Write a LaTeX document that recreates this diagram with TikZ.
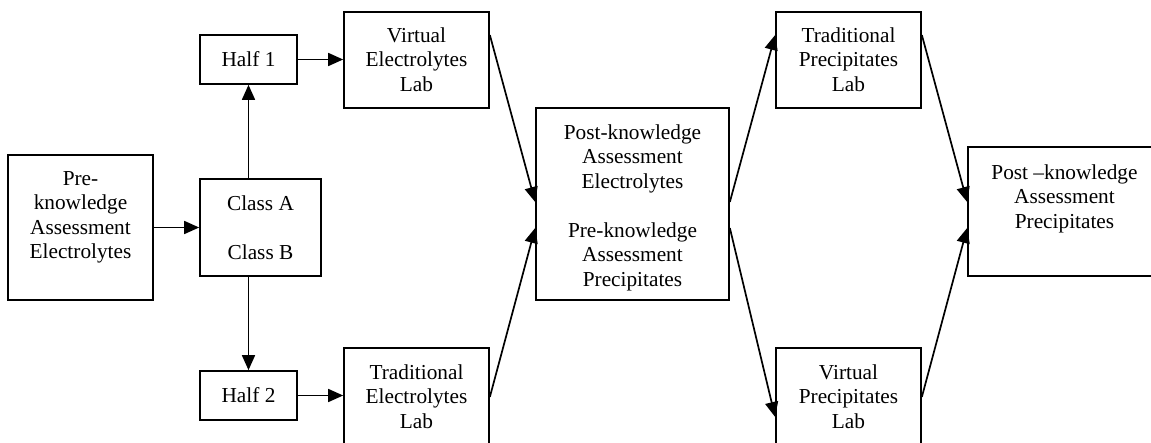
\documentclass[tikz,border=0pt]{standalone}
\usepackage{fontspec}
\setmainfont{Liberation Serif}
\usetikzlibrary{arrows.meta}
\begin{document}
\begin{tikzpicture}[x=1pt,y=-1pt,
  box/.style={draw, line width=1.7pt, inner sep=0pt},
  txt/.style={anchor=north, inner sep=0pt, align=center, font=\fontsize{21.3}{24.5}\selectfont},
  arr/.style={line width=1.7pt, -{Triangle[length=15pt,width=13pt]}}]
\useasboundingbox (0,0) rectangle (1151,443);
% boxes
\node[box, minimum width=145pt, minimum height=145pt] (pre) at (80.5,227.5) {};
\node[box, minimum width=121pt, minimum height=97pt] (cls) at (260.5,227.5) {};
\node[box, minimum width=97pt, minimum height=49pt] (h1) at (248.5,59.5) {};
\node[box, minimum width=97pt, minimum height=49pt] (h2) at (248.5,395.5) {};
\node[box, minimum width=145pt, minimum height=96pt] (vel) at (416.5,60) {};
\node[box, minimum width=145pt, minimum height=96pt] (tel) at (416.5,396) {};
\node[box, minimum width=193pt, minimum height=192pt] (mid) at (632.5,204) {};
\node[box, minimum width=145pt, minimum height=96pt] (tpl) at (848.5,60) {};
\node[box, minimum width=145pt, minimum height=96pt] (vpl) at (848.5,396) {};
\node[box, minimum width=193pt, minimum height=129pt] (post) at (1064.5,211.5) {};
% texts
\node[txt] (pre-t) at ([yshift=-17pt]pre.north) {Pre-\\knowledge\\Assessment\\Electrolytes};
\node[txt] (cls-t) at ([yshift=-17pt]cls.north) {Class A\\[24.5pt]Class B};
\node[txt] (h1-t) at ([yshift=-17pt]h1.north) {Half 1};
\node[txt] (h2-t) at ([yshift=-17pt]h2.north) {Half 2};
\node[txt] (vel-t) at ([yshift=-16pt]vel.north) {Virtual\\Electrolytes\\Lab};
\node[txt] (tel-t) at ([yshift=-17pt]tel.north) {Traditional\\Electrolytes\\Lab};
\node[txt] (mid-t) at ([yshift=-17pt]mid.north) {Post-knowledge\\Assessment\\Electrolytes\\[24.5pt]Pre-knowledge\\Assessment\\Precipitates};
\node[txt] (tpl-t) at ([yshift=-16pt]tpl.north) {Traditional\\Precipitates\\Lab};
\node[txt] (vpl-t) at ([yshift=-17pt]vpl.north) {Virtual\\Precipitates\\Lab};
\node[txt] (post-t) at ([yshift=-18pt]post.north) {Post –knowledge\\Assessment\\Precipitates};
% connectors
\draw[arr] (pre.east) -- (cls.west);
\draw[arr] (h1.south |- cls.north) -- (h1.south);
\draw[arr] (h2.north |- cls.south) -- (h2.north);
\draw[arr] (h1.east) -- (h1.east -| vel.west);
\draw[arr] (h2.east) -- (h2.east -| tel.west);
\draw[arr] ([yshift=25pt]vel.east) -- ([yshift=2pt]mid.west);
\draw[arr] ([yshift=-1pt]tel.east) -- ([yshift=-24pt]mid.west);
\draw[arr] ([yshift=2pt]mid.east) -- ([yshift=25pt]tpl.west);
\draw[arr] ([yshift=-24pt]mid.east) -- ([yshift=-21pt]vpl.west);
\draw[arr] ([yshift=25pt]tpl.east) -- ([yshift=9.5pt]post.west);
\draw[arr] ([yshift=-1pt]vpl.east) -- ([yshift=-16.5pt]post.west);
\end{tikzpicture}
\end{document}
